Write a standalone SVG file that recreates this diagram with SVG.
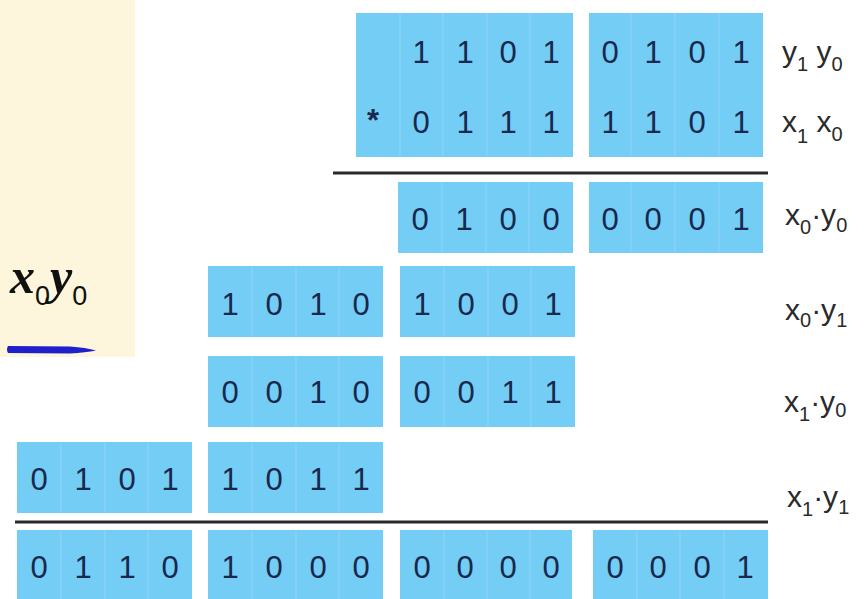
<svg xmlns="http://www.w3.org/2000/svg" width="866" height="599" viewBox="0 0 866 599">
<style>
.cell{fill:#74cdf5}
.div{stroke:#8ed6f7;stroke-width:1}
.d{font-family:"Liberation Sans",Arial,sans-serif;font-size:31px;fill:#17294d;text-anchor:middle}
.lab{font-family:"Liberation Sans",Arial,sans-serif;font-size:30px;fill:#2a2a2a}
.sub{font-size:20px}
.rule{stroke:#2a2a2a;stroke-width:3}
</style>
<rect x="0" y="0" width="866" height="599" fill="#ffffff"/>
<g id="left-panel">
<rect x="0" y="0" width="135" height="357" fill="#fdf6dc"/>
<text x="10" y="293" font-family="Liberation Serif,serif" font-style="italic" font-weight="bold" font-size="50" fill="#111">x<tspan font-family="Liberation Sans,sans-serif" font-style="normal" font-weight="normal" font-size="27" dy="12">0</tspan><tspan dy="-12">y</tspan><tspan font-family="Liberation Sans,sans-serif" font-style="normal" font-weight="normal" font-size="27" dy="12">0</tspan></text>
<path d="M8,346 L70,346.5 Q86,347.5 96,350.5 Q86,352.5 70,353.5 L8,353 Q6,349.5 8,346 Z" fill="#1f1fcc"/>
</g>
<g id="connectors">
<line class="rule" x1="333" y1="173" x2="768" y2="173"/>
<line class="rule" x1="15" y1="522" x2="768" y2="522"/>
</g>
<g id="operands">
<rect class="cell" x="356" y="13" width="217" height="144"/>
<line class="div" x1="400" y1="13" x2="400" y2="157"/><line class="div" x1="443" y1="13" x2="443" y2="157"/><line class="div" x1="487" y1="13" x2="487" y2="157"/><line class="div" x1="530" y1="13" x2="530" y2="157"/>
<rect class="cell" x="589" y="13" width="174" height="144"/>
<line class="div" x1="631" y1="13" x2="631" y2="157"/><line class="div" x1="675" y1="13" x2="675" y2="157"/><line class="div" x1="719" y1="13" x2="719" y2="157"/>
<text class="d" y="63"><tspan x="421">1</tspan><tspan x="465">1</tspan><tspan x="508">0</tspan><tspan x="551">1</tspan><tspan x="610">0</tspan><tspan x="653">1</tspan><tspan x="697">0</tspan><tspan x="741">1</tspan></text>
<text class="d" x="373" y="131" font-size="28" font-weight="bold">*</text>
<text class="d" y="133"><tspan x="421">0</tspan><tspan x="465">1</tspan><tspan x="508">1</tspan><tspan x="551">1</tspan><tspan x="610">1</tspan><tspan x="653">1</tspan><tspan x="697">0</tspan><tspan x="741">1</tspan></text>
<text class="lab" x="782" y="62">y<tspan class="sub" dy="9">1</tspan><tspan dy="-9"> y</tspan><tspan class="sub" dy="9">0</tspan></text>
<text class="lab" x="782" y="132">x<tspan class="sub" dy="11">1</tspan><tspan dy="-11"> x</tspan><tspan class="sub" dy="9">0</tspan></text>
</g>
<g id="row-x0y0">
<rect class="cell" x="398" y="182" width="175" height="71"/>
<line class="div" x1="442" y1="182" x2="442" y2="253"/><line class="div" x1="486" y1="182" x2="486" y2="253"/><line class="div" x1="529" y1="182" x2="529" y2="253"/>
<rect class="cell" x="589" y="182" width="174" height="71"/>
<line class="div" x1="631" y1="182" x2="631" y2="253"/><line class="div" x1="675" y1="182" x2="675" y2="253"/><line class="div" x1="719" y1="182" x2="719" y2="253"/>
<text class="d" y="230"><tspan x="420">0</tspan><tspan x="464">1</tspan><tspan x="508">0</tspan><tspan x="551">0</tspan><tspan x="610">0</tspan><tspan x="653">0</tspan><tspan x="697">0</tspan><tspan x="741">1</tspan></text>
<text class="lab" x="785" y="225">x<tspan class="sub" dy="9">0</tspan><tspan dy="-9">·y</tspan><tspan class="sub" dy="7">0</tspan></text>
</g>
<g id="row-x0y1">
<rect class="cell" x="208" y="266" width="175" height="71"/>
<line class="div" x1="252" y1="266" x2="252" y2="337"/><line class="div" x1="296" y1="266" x2="296" y2="337"/><line class="div" x1="339" y1="266" x2="339" y2="337"/>
<rect class="cell" x="400" y="266" width="175" height="71"/>
<line class="div" x1="444" y1="266" x2="444" y2="337"/><line class="div" x1="488" y1="266" x2="488" y2="337"/><line class="div" x1="531" y1="266" x2="531" y2="337"/>
<text class="d" y="315"><tspan x="230">1</tspan><tspan x="274">0</tspan><tspan x="318">1</tspan><tspan x="361">0</tspan><tspan x="422">1</tspan><tspan x="466">0</tspan><tspan x="510">0</tspan><tspan x="553">1</tspan></text>
<text class="lab" x="785" y="320">x<tspan class="sub" dy="7">0</tspan><tspan dy="-7">·y</tspan><tspan class="sub" dy="7">1</tspan></text>
</g>
<g id="row-x1y0">
<rect class="cell" x="208" y="356" width="175" height="71"/>
<line class="div" x1="252" y1="356" x2="252" y2="427"/><line class="div" x1="296" y1="356" x2="296" y2="427"/><line class="div" x1="339" y1="356" x2="339" y2="427"/>
<rect class="cell" x="400" y="356" width="175" height="71"/>
<line class="div" x1="444" y1="356" x2="444" y2="427"/><line class="div" x1="488" y1="356" x2="488" y2="427"/><line class="div" x1="531" y1="356" x2="531" y2="427"/>
<text class="d" y="403"><tspan x="230">0</tspan><tspan x="274">0</tspan><tspan x="318">1</tspan><tspan x="361">0</tspan><tspan x="422">0</tspan><tspan x="466">0</tspan><tspan x="510">1</tspan><tspan x="553">1</tspan></text>
<text class="lab" x="784" y="412">x<tspan class="sub" dy="9">1</tspan><tspan dy="-9">·y</tspan><tspan class="sub" dy="5">0</tspan></text>
</g>
<g id="row-x1y1">
<rect class="cell" x="17" y="442" width="175" height="71"/>
<line class="div" x1="61" y1="442" x2="61" y2="513"/><line class="div" x1="105" y1="442" x2="105" y2="513"/><line class="div" x1="148" y1="442" x2="148" y2="513"/>
<rect class="cell" x="208" y="442" width="175" height="71"/>
<line class="div" x1="252" y1="442" x2="252" y2="513"/><line class="div" x1="296" y1="442" x2="296" y2="513"/><line class="div" x1="339" y1="442" x2="339" y2="513"/>
<text class="d" y="490"><tspan x="39">0</tspan><tspan x="83">1</tspan><tspan x="127">0</tspan><tspan x="170">1</tspan><tspan x="230">1</tspan><tspan x="274">0</tspan><tspan x="318">1</tspan><tspan x="361">1</tspan></text>
<text class="lab" x="787" y="507">x<tspan class="sub" dy="9">1</tspan><tspan dy="-9">·y</tspan><tspan class="sub" dy="7">1</tspan></text>
</g>
<g id="row-result">
<rect class="cell" x="17" y="530" width="175" height="70"/>
<line class="div" x1="61" y1="530" x2="61" y2="599"/><line class="div" x1="105" y1="530" x2="105" y2="599"/><line class="div" x1="148" y1="530" x2="148" y2="599"/>
<rect class="cell" x="208" y="530" width="175" height="70"/>
<line class="div" x1="252" y1="530" x2="252" y2="599"/><line class="div" x1="296" y1="530" x2="296" y2="599"/><line class="div" x1="339" y1="530" x2="339" y2="599"/>
<rect class="cell" x="400" y="530" width="172" height="70"/>
<line class="div" x1="444" y1="530" x2="444" y2="599"/><line class="div" x1="487" y1="530" x2="487" y2="599"/><line class="div" x1="530" y1="530" x2="530" y2="599"/>
<rect class="cell" x="593" y="530" width="175" height="70"/>
<line class="div" x1="637" y1="530" x2="637" y2="599"/><line class="div" x1="680" y1="530" x2="680" y2="599"/><line class="div" x1="724" y1="530" x2="724" y2="599"/>
<text class="d" y="578"><tspan x="39">0</tspan><tspan x="83">1</tspan><tspan x="127">1</tspan><tspan x="170">0</tspan><tspan x="230">1</tspan><tspan x="274">0</tspan><tspan x="318">0</tspan><tspan x="361">0</tspan><tspan x="422">0</tspan><tspan x="465">0</tspan><tspan x="508">0</tspan><tspan x="551">0</tspan><tspan x="615">0</tspan><tspan x="658">0</tspan><tspan x="702">0</tspan><tspan x="745">1</tspan></text>
</g>
</svg>
